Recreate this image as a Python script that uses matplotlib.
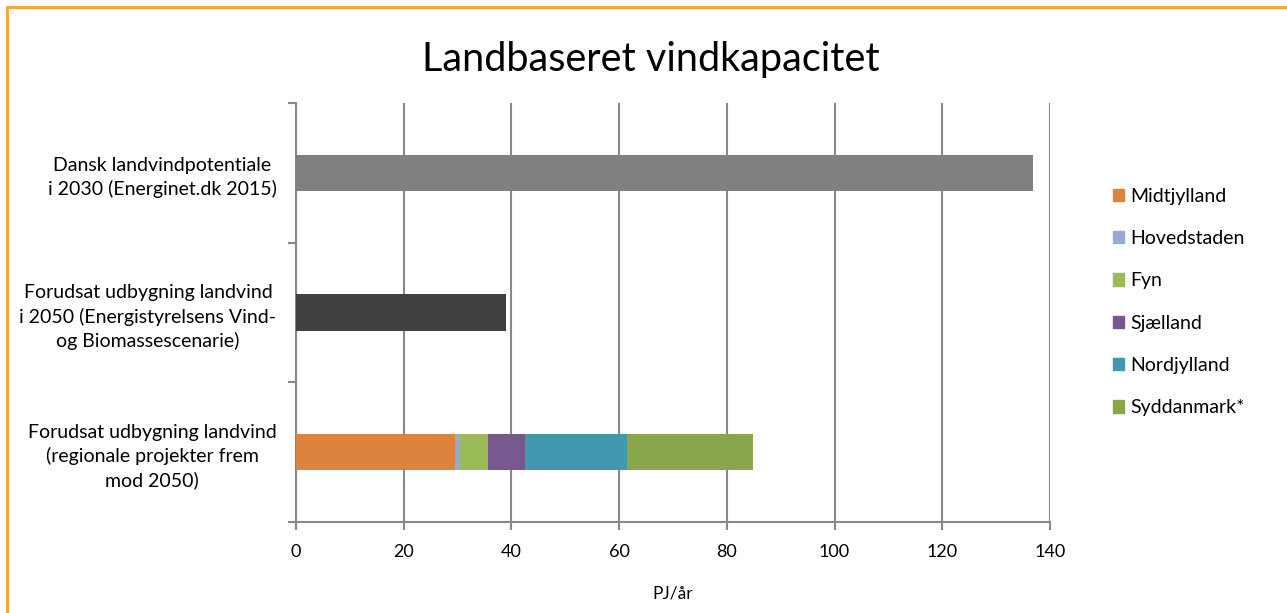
import matplotlib.pyplot as plt
import matplotlib.patches as mpatches
import numpy as np

# data
categories = ['Forudsat udbygning landvind\n(regionale projekter frem\nmod 2050)',
              'Forudsat udbygning landvind\ni 2050 (Energistyrelsens Vind-\nog Biomassescenarie)',
              'Dansk landvindpotentiale\ni 2030 (Energinet.dk 2015)']
regions = ['Midtjylland', 'Hovedstaden', 'Fyn', 'Sjælland', 'Nordjylland', 'Syddanmark*']
region_values = [29.5, 0.8, 5.3, 6.9, 18.9, 23.4]
region_colors = ['#DC843E', '#95ABD3', '#9BBB59', '#77598F', '#4298AE', '#8AA64D']
scenario_2050 = 39.0
potential_2030 = 136.9
xticks = [0, 20, 40, 60, 80, 100, 120, 140]

plt.rcParams['font.family'] = ['Lato', 'DejaVu Sans']

fig = plt.figure(figsize=(12.87, 6.13), dpi=100)
ax = fig.add_axes([296/1287, 1-522/613, (1050-296)/1287, (522-103)/613])

h = 0.26
left = 0
for val, col, lab in zip(region_values, region_colors, regions):
    ax.barh(0, val, left=left, height=h, color=col, label=lab, zorder=3)
    left += val
ax.barh(1, scenario_2050, height=h, color='#404040', zorder=3)
ax.barh(2, potential_2030, height=h, color='#808080', zorder=3)

ax.set_xlim(0, 140)
ax.set_ylim(-0.5, 2.5)
ax.set_xticks(xticks)
ax.set_xticklabels([str(v) for v in xticks], fontsize=13)
ax.set_yticks([0, 1, 2])
ax.set_yticklabels(categories, fontsize=14, linespacing=1.4)
for t in ax.get_yticklabels():
    t.set_multialignment('center')
ax.set_yticks([-0.5, 0.5, 1.5, 2.5], minor=True)
ax.tick_params(axis='y', which='major', length=0, pad=14)
ax.tick_params(axis='y', which='minor', length=6, color='#898989', width=1.5, direction='out')
ax.tick_params(axis='x', length=6, color='#898989', width=1.5, direction='out', pad=10)
ax.grid(axis='x', color='#898989', linewidth=1.5, zorder=0)
for s in ['top', 'right']:
    ax.spines[s].set_visible(False)
for s in ['left', 'bottom']:
    ax.spines[s].set_color('#898989')
    ax.spines[s].set_linewidth(1.5)
ax.set_xlabel('PJ/år', fontsize=12.5, labelpad=18)

fig.text(651/1287, 1-59/613, 'Landbaseret vindkapacitet', ha='center', va='center', fontsize=28.5)

handles = [mpatches.Patch(color=c, label=l) for c, l in zip(region_colors, regions)]
fig.legend(handles=handles, loc='center left', bbox_to_anchor=(1103/1287, 1-302/613),
           frameon=False, fontsize=14, handlelength=0.6, handleheight=0.6,
           handletextpad=0.3, labelspacing=1.3, borderpad=0)

# orange frame (top and left edge)
fig.add_artist(plt.Line2D([7/1287, 7/1287, 1.0], [0.0, 1-7/613, 1-7/613],
                          transform=fig.transFigure, color='#F8A542', linewidth=2.2))

fig.savefig('out.png', dpi=100)
